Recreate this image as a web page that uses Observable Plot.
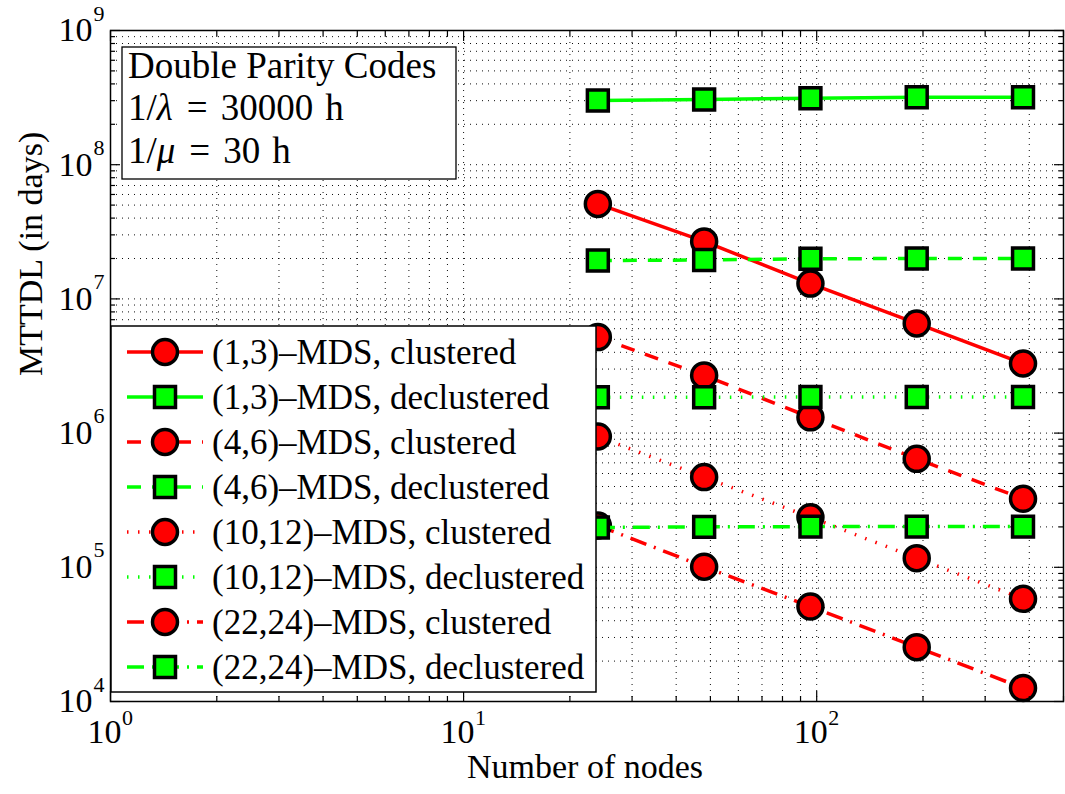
<!DOCTYPE html>
<html><head><meta charset="utf-8">
<script src="https://cdn.jsdelivr.net/npm/d3@7"></script>
<script src="https://cdn.jsdelivr.net/npm/@observablehq/plot@0.6"></script>
<style>body{margin:0;background:#fff}</style>
</head><body><div id="chart"></div>
<script>
// ---- data ----
const nodes = [24, 48, 96, 192, 384];
const mds13Clustered     = [5.1e7, 2.68e7, 1.30e7, 6.56e6, 3.3e6];
const mds13Declustered   = [3.01e8, 3.06e8, 3.13e8, 3.18e8, 3.18e8];
const mds46Clustered     = [5.19e6, 2.69e6, 1.31e6, 6.43e5, 3.24e5];
const mds46Declustered   = [1.93e7, 1.95e7, 1.99e7, 2.0e7, 2.0e7];
const mds1012Clustered   = [9.44e5, 4.7e5, 2.36e5, 1.17e5, 5.82e4];
const mds1012Declustered = [1.85e6, 1.85e6, 1.86e6, 1.86e6, 1.86e6];
const mds2224Clustered   = [2.05e5, 1.01e5, 5.1e4, 2.54e4, 1.26e4];
const mds2224Declustered = [1.98e5, 2.0e5, 2.01e5, 2.01e5, 2.01e5];
const seriesLabels = [
  "(1,3)\u2013MDS, clustered", "(1,3)\u2013MDS, declustered",
  "(4,6)\u2013MDS, clustered", "(4,6)\u2013MDS, declustered",
  "(10,12)\u2013MDS, clustered", "(10,12)\u2013MDS, declustered",
  "(22,24)\u2013MDS, clustered", "(22,24)\u2013MDS, declustered"
];
const seriesValues = [mds13Clustered, mds13Declustered, mds46Clustered, mds46Declustered,
  mds1012Clustered, mds1012Declustered, mds2224Clustered, mds2224Declustered];
const xTickValues = [1, 10, 100];
const yTickValues = [1e4, 1e5, 1e6, 1e7, 1e8, 1e9];
const xLabel = "Number of nodes";
const yLabel = "MTTDL (in days)";
const boxTitle = "Double Parity Codes";

// ---- styles ----
const RED = "#ff0000", GREEN = "#00ff00";
const colors = [RED, GREEN, RED, GREEN, RED, GREEN, RED, GREEN];
const dashes = [null, null, "14,11", "14,11", "1.5,9.5", "1.5,9.5", "17,8,2,8", "17,8,2,8"];
const symbols = ["circle", "square", "circle", "square", "circle", "square", "circle", "square"];
const FONT = "'Liberation Serif', 'Times New Roman', serif";

function minorTicks(lo, hi, max) {
  const out = [];
  for (let e = lo; e < hi; e++) for (let m = 2; m < 10; m++) { const v = m * 10 ** e; if (v <= max) out.push(v); }
  return out;
}
const xMinor = minorTicks(0, 3, 500);
const yMinor = minorTicks(4, 9, 1e9);

const marks = [];
const gridStyle = {stroke: "#000", strokeWidth: 1, strokeDasharray: "1,5", strokeOpacity: 0.95};
marks.push(Plot.ruleX([...xTickValues, ...xMinor], {x: d => d, ...gridStyle}));
marks.push(Plot.ruleY([...yTickValues, ...yMinor], {y: d => d, ...gridStyle}));

seriesValues.forEach((vals, i) => {
  const rows = nodes.map((n, j) => ({n, v: vals[j]}));
  const lineOpts = {x: "n", y: "v", stroke: colors[i], strokeWidth: 3.5, strokeLinecap: "butt"};
  if (dashes[i]) lineOpts.strokeDasharray = dashes[i];
  marks.push(Plot.line(rows, lineOpts));
  marks.push(Plot.dot(rows, {x: "n", y: "v", symbol: symbols[i], r: symbols[i] === "circle" ? 12.5 : 11.8,
    fill: colors[i], stroke: "#000", strokeWidth: 3.5}));
});

marks.push(Plot.frame({stroke: "#000", strokeWidth: 1.5}));
// inward ticks on all sides
const none = () => "";
for (const anchor of ["bottom", "top"]) {
  marks.push(Plot.axisX({anchor, ticks: xTickValues, tickSize: -10, tickFormat: none, label: null, strokeWidth: 1.2}));
  marks.push(Plot.axisX({anchor, ticks: xMinor, tickSize: -5, tickFormat: none, label: null, strokeWidth: 1.2}));
}
for (const anchor of ["left", "right"]) {
  marks.push(Plot.axisY({anchor, ticks: yTickValues, tickSize: -10, tickFormat: none, label: null, strokeWidth: 1.2}));
  marks.push(Plot.axisY({anchor, ticks: yMinor, tickSize: -5, tickFormat: none, label: null, strokeWidth: 1.2}));
}
// tick labels 10^k
marks.push(Plot.text(xTickValues, {x: d => d, frameAnchor: "bottom", text: () => "10", dy: 41, dx: -6, fontSize: 34, fill: "#000"}));
marks.push(Plot.text(xTickValues, {x: d => d, frameAnchor: "bottom", text: d => String(Math.round(Math.log10(d))), dy: 23, dx: 17, fontSize: 22, fill: "#000"}));
marks.push(Plot.text(yTickValues, {y: d => d, frameAnchor: "left", text: () => "10", textAnchor: "end", dx: -18, fontSize: 34, fill: "#000"}));
marks.push(Plot.text(yTickValues, {y: d => d, frameAnchor: "left", text: d => String(Math.round(Math.log10(d))), textAnchor: "start", dx: -17, dy: -17, fontSize: 22, fill: "#000"}));
// axis labels
marks.push(Plot.text([xLabel], {frameAnchor: "bottom", text: d => d, dy: 76, dx: -2, fontSize: 34, fill: "#000"}));
marks.push(Plot.text([yLabel], {frameAnchor: "left", text: d => d, rotate: -90, dx: -79, dy: 10, fontSize: 34, fill: "#000", ariaLabel: "ylabel"}));

const chart = Plot.plot({
  width: 1065, height: 794,
  marginLeft: 110, marginRight: 2, marginTop: 30, marginBottom: 93,
  style: {fontFamily: FONT, background: "white", overflow: "visible"},
  x: {type: "log", domain: [1, 500]},
  y: {type: "log", domain: [1e4, 1e9]},
  marks
});
document.getElementById("chart").appendChild(chart);

const svg = d3.select(chart);
svg.selectAll('g[aria-label="ylabel"] text').attr("textLength", 322).attr("lengthAdjust", "spacingAndGlyphs");

// ---- annotation box ----
const ann = svg.append("g").attr("font-family", FONT).attr("fill", "#000").attr("text-anchor", "start");
ann.append("rect").attr("x", 122).attr("y", 47).attr("width", 334).attr("height", 132)
  .attr("fill", "#fff").attr("stroke", "#000").attr("stroke-width", 1.3);
ann.append("text").attr("x", 128).attr("y", 78).attr("font-size", 37).text(boxTitle);
const l2 = ann.append("text").attr("x", 128).attr("y", 120).attr("font-size", 37);
l2.append("tspan").text("1/");
l2.append("tspan").attr("font-style", "italic").text("\u03bb");
l2.append("tspan").attr("dx", 14).text("=");
l2.append("tspan").attr("dx", 13).text("30000");
l2.append("tspan").attr("dx", 12).text("h");
const l3 = ann.append("text").attr("x", 128).attr("y", 163).attr("font-size", 37);
l3.append("tspan").text("1/");
l3.append("tspan").attr("font-style", "italic").text("\u03bc");
l3.append("tspan").attr("dx", 14).text("=");
l3.append("tspan").attr("dx", 13).text("30");
l3.append("tspan").attr("dx", 12).text("h");

// ---- legend ----
const lg = svg.append("g").attr("font-family", FONT).attr("text-anchor", "start");
lg.append("rect").attr("x", 111).attr("y", 326).attr("width", 485).attr("height", 366)
  .attr("fill", "#fff").attr("stroke", "#000").attr("stroke-width", 1.5);
seriesLabels.forEach((label, i) => {
  const cy = 352 + 45 * i;
  const ln = lg.append("line").attr("x1", 127).attr("x2", 203).attr("y1", cy).attr("y2", cy)
    .attr("stroke", colors[i]).attr("stroke-width", 3.5);
  if (dashes[i]) ln.attr("stroke-dasharray", dashes[i]);
  if (symbols[i] === "circle") {
    lg.append("circle").attr("cx", 165).attr("cy", cy).attr("r", 12.5)
      .attr("fill", colors[i]).attr("stroke", "#000").attr("stroke-width", 3.5);
  } else {
    lg.append("rect").attr("x", 165 - 10.5).attr("y", cy - 10.5).attr("width", 21).attr("height", 21)
      .attr("fill", colors[i]).attr("stroke", "#000").attr("stroke-width", 3.5);
  }
  lg.append("text").attr("x", 212).attr("y", cy + 12).attr("font-size", 35).attr("fill", "#000").text(label);
});
</script>
</body></html>
